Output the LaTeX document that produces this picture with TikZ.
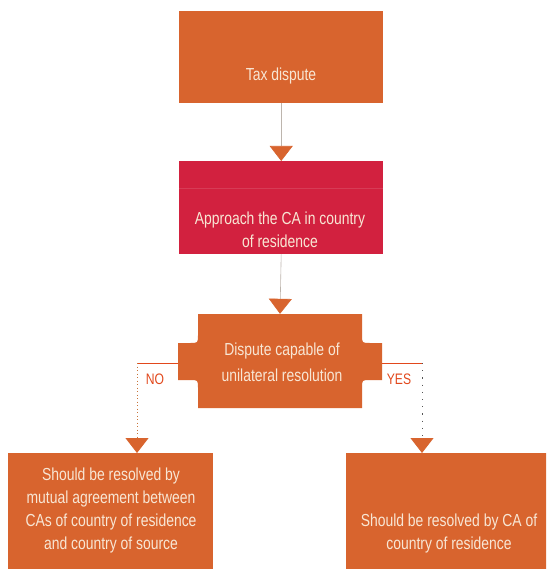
\documentclass[tikz,border=0pt]{standalone}
\usepackage{fontspec}
\setmainfont{Liberation Sans}
\usetikzlibrary{arrows.meta}
\definecolor{boxor}{HTML}{D8642E}
\definecolor{boxred}{HTML}{D2213F}
\definecolor{txtc}{HTML}{F8E6D4}
\definecolor{lblc}{HTML}{E2481C}
\definecolor{connc}{HTML}{BDB5AD}
\definecolor{dotl}{HTML}{C8743A}
\definecolor{dotr}{HTML}{555555}
\newcommand{\cond}[1]{\scalebox{0.8}[1]{#1}}
\begin{document}
\begin{tikzpicture}[x=1pt,y=-1pt,
  boxo/.style={fill=boxor, draw=none, inner sep=0pt, anchor=north west},
  boxr/.style={fill=boxred, draw=none, inner sep=0pt, anchor=north west},
  btxt/.style={text=txtc, inner sep=0pt, font=\fontsize{17.4}{23}\selectfont},
  dtxt/.style={text=txtc, inner sep=0pt, font=\fontsize{17.4}{26}\selectfont},
  yn/.style={text=lblc, inner sep=0pt, font=\fontsize{15.2}{16}\selectfont},
  tip/.style={-{Triangle[width=23pt,length=15pt,color=boxor,fill=boxor]}},
  topconn/.style={draw=connc, line width=0.6pt, tip},
  hconn/.style={draw=lblc, line width=0.9pt},
  vleft/.style={draw=dotl, line width=0.9pt, dash pattern=on 1pt off 2.5pt, tip},
  vright/.style={draw=dotr, line width=0.9pt, dash pattern=on 1.2pt off 6pt, tip}]
\clip (0,0) rectangle (546,569);
\fill[white] (0,0) rectangle (546,569);

% boxes
\node[boxo, minimum width=204pt, minimum height=92pt] (b1) at (179,11) {};
\node[boxr, minimum width=204pt, minimum height=93pt] (b2) at (179,161) {};
\draw[boxred!88!white, line width=0.6pt] ([yshift=-27pt]b2.north west) -- ([yshift=-27pt]b2.north east);
\node[inner sep=0pt, minimum width=204pt, minimum height=94pt] (d) at (280,361) {};
\fill[boxor] (198,314) -- (362,314) -- (362,335) .. controls (362,343) .. (370,343)
  -- (382,343) -- (382,380) -- (370,380) .. controls (362,380) .. (362,388)
  -- (362,408) -- (198,408) -- (198,388) .. controls (198,380) .. (190,380)
  -- (178,380) -- (178,343) -- (190,343) .. controls (198,343) .. (198,335) -- cycle;
\node[boxo, minimum width=205pt, minimum height=130pt] (b3) at (8,453) {};
\node[boxo, minimum width=210pt, minimum height=130pt] (b4) at (346,453) {};

% texts
\node[btxt] (t1) at (281,76) {\cond{Tax dispute}};
\node[btxt] (t2) at (280,231) {\cond{\begin{tabular}{@{}c@{}}Approach the CA in country\\of residence\end{tabular}}};
\node[dtxt] (t3) at (282,363.5) {\cond{\begin{tabular}{@{}c@{}}Dispute capable of\\unilateral resolution\end{tabular}}};
\node[btxt] (t4) at (111,510.5) {\cond{\begin{tabular}{@{}c@{}}Should be resolved by\\mutual agreement between\\CAs of country of residence\\and country of source\end{tabular}}};
\node[btxt] (t5) at (449,533.5) {\cond{\begin{tabular}{@{}c@{}}Should be resolved by CA of\\country of residence\end{tabular}}};
\node[yn] (no) at (155,379) {\cond{NO}};
\node[yn] (yes) at (399,379) {\cond{YES}};

% connectors
\coordinate (nl) at (137,363);
\coordinate (yr) at (422,363);
\draw[topconn] (b1.south) -- (b2.north);
\draw[topconn] (b2.south) -- (d.north);
\draw[hconn] ([yshift=-2pt]d.west) -- (nl);
\draw[hconn] ([yshift=-2pt]d.east) -- (yr);
\draw[vleft] (nl) -- (nl |- b3.north);
\draw[vright] (yr) -- (yr |- b4.north);
\end{tikzpicture}
\end{document}
